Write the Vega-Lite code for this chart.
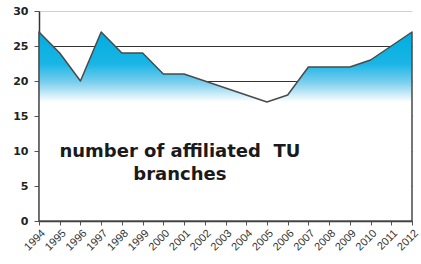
{
  "$schema": "https://vega.github.io/schema/vega-lite/v6.json",
  "autosize": "none",
  "padding": {"left": 39, "top": 11, "right": 9, "bottom": 43},
  "width": 373,
  "height": 210,
  "background": "white",
  "config": {"view": {"stroke": null}},
  "datasets": {
    "series": [
      {"year": 1994, "value": 27}, {"year": 1995, "value": 24}, {"year": 1996, "value": 20},
      {"year": 1997, "value": 27}, {"year": 1998, "value": 24}, {"year": 1999, "value": 24},
      {"year": 2000, "value": 21}, {"year": 2001, "value": 21}, {"year": 2002, "value": 20},
      {"year": 2003, "value": 19}, {"year": 2004, "value": 18}, {"year": 2005, "value": 17},
      {"year": 2006, "value": 18}, {"year": 2007, "value": 22}, {"year": 2008, "value": 22},
      {"year": 2009, "value": 22}, {"year": 2010, "value": 23}, {"year": 2011, "value": 25},
      {"year": 2012, "value": 27}
    ],
    "note": [{"year": 2000.8, "value": 9.1, "label": ["number of affiliated\u00a0 TU", "branches"]}]
  },
  "encoding": {
    "x": {
      "field": "year", "type": "quantitative",
      "scale": {"domain": [1994, 2012], "nice": false, "zero": false},
      "axis": {
        "title": null,
        "values": [1994,1995,1996,1997,1998,1999,2000,2001,2002,2003,2004,2005,2006,2007,2008,2009,2010,2011,2012],
        "tickCount": 19,
        "format": "d",
        "labelAngle": -45,
        "labelFont": "Liberation Sans",
        "labelFontSize": 11,
        "labelColor": "#333333",
        "labelPadding": 2,
        "labelOverlap": false,
        "labelFlush": false,
        "domainColor": "#333333",
        "domainWidth": 1.5,
        "tickColor": "#555555",
        "tickSize": 4,
        "grid": false
      }
    },
    "y": {
      "field": "value", "type": "quantitative",
      "scale": {"domain": [0, 30], "nice": false},
      "axis": {
        "title": null,
        "values": [0, 5, 10, 15, 20, 25, 30],
        "tickCount": 7,
        "labelOverlap": false,
        "labelFont": "DejaVu Sans",
        "labelFontWeight": "bold",
        "labelFontSize": 11,
        "labelColor": "#222222",
        "labelPadding": 6,
        "domainColor": "#333333",
        "domainWidth": 1.5,
        "tickColor": "#555555",
        "tickSize": 5,
        "grid": true,
        "gridColor": {"condition": {"test": "datum.value === 30", "value": "#d6cfcf"}, "value": "#333333"},
        "gridWidth": 1,
        "gridOpacity": 1
      }
    }
  },
  "layer": [
    {
      "data": {"name": "series"},
      "mark": {
        "type": "area",
        "stroke": "#4a4a4a",
        "strokeWidth": 1.5,
        "strokeJoin": "round",
        "fill": {
          "gradient": "linear",
          "x1": 0, "y1": 0, "x2": 0, "y2": 1,
          "stops": [
            {"offset": 0, "color": "#00ade0"},
            {"offset": 0.17, "color": "#1ab5e5"},
            {"offset": 0.27, "color": "#7fd0ee"},
            {"offset": 0.37, "color": "#ffffff"},
            {"offset": 1, "color": "#ffffff"}
          ]
        },
        "fillOpacity": 1
      }
    },
    {
      "data": {"name": "note"},
      "mark": {
        "type": "text",
        "font": "DejaVu Sans",
        "fontWeight": "bold",
        "fontSize": 18,
        "color": "#1a1a1a",
        "align": "center",
        "baseline": "alphabetic",
        "lineHeight": 23
      },
      "encoding": {
        "text": {"field": "label"}
      }
    }
  ]
}
